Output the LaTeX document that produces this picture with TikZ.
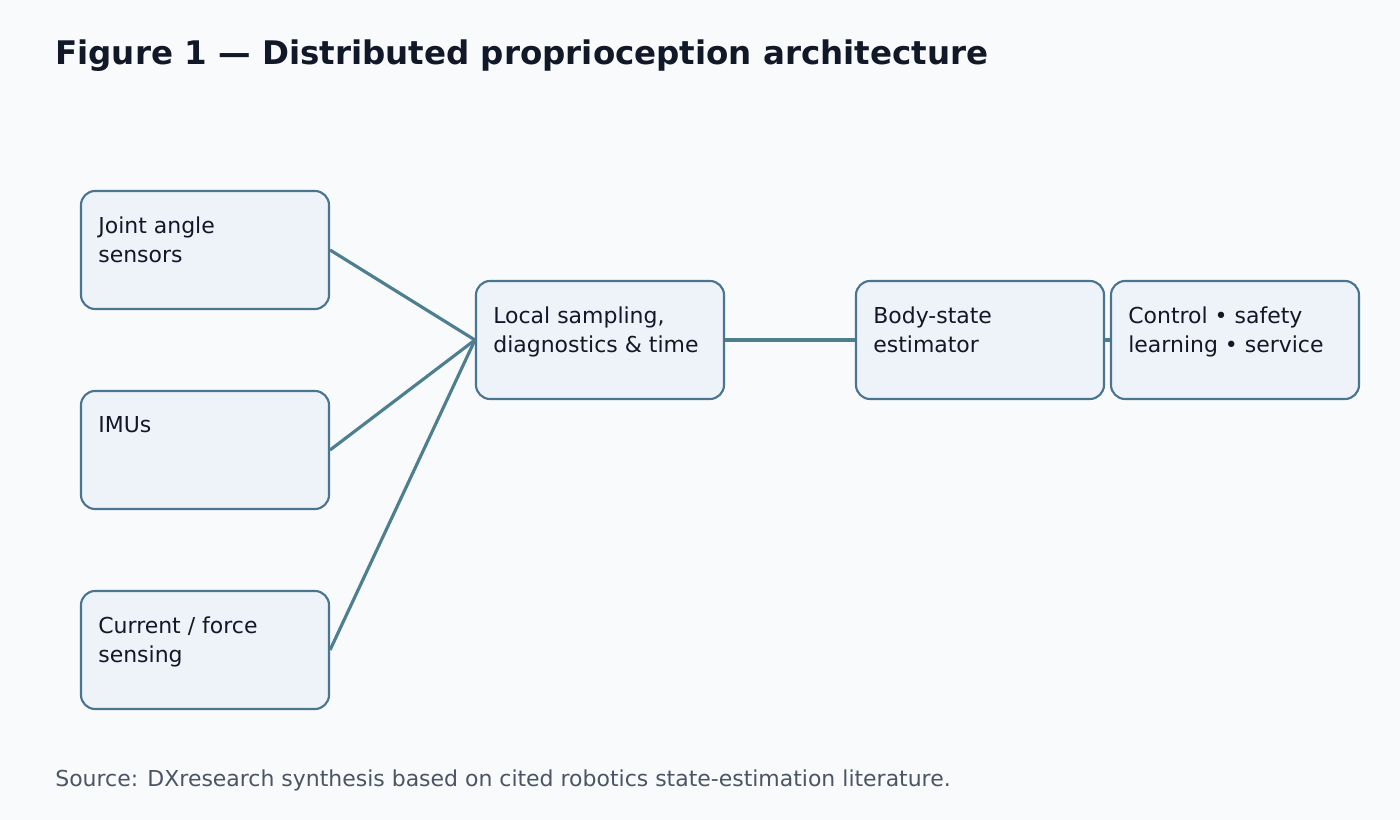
\documentclass[tikz,border=0pt]{standalone}
\usepackage{fontspec}
\setmainfont{DejaVu Sans}
\usetikzlibrary{positioning}
\definecolor{bgc}{HTML}{F8FAFC}
\definecolor{boxfill}{HTML}{EEF3F9}
\definecolor{boxline}{HTML}{4A7590}
\definecolor{linkc}{HTML}{4E7F8F}
\definecolor{inkc}{HTML}{111827}
\definecolor{greyc}{HTML}{4B5563}
\tikzset{
  unit/.style={draw=boxline, fill=boxfill, line width=1.2pt, rounded corners=8pt,
    minimum width=248*0.02cm, minimum height=118*0.02cm, inner sep=0pt},
  txt/.style={anchor=north west, align=left, font=\fontsize{12.5}{17}\selectfont,
    text=inkc, inner sep=0pt},
  link/.style={draw=linkc, line width=1.8pt}
}
\begin{document}
\begin{tikzpicture}[x=0.02cm, y=-0.02cm]
\fill[bgc] (0,0) rectangle (1400,820);
\useasboundingbox (0,0) rectangle (1400,820);

% Title
\node[anchor=west, inner sep=0pt, text=inkc, font=\fontsize{18.5}{22}\bfseries] (title) at (55,56)
  {Figure 1 — Distributed proprioception architecture};

% Sensors
\node[unit] (joint) at (205,250) {};
\node[unit] (imu) at (205,450) {};
\node[unit] (force) at (205,650) {};
% Processing chain
\node[unit] (local) at (600,340) {};
\node[unit] (body) at (980,340) {};
\node[unit] (ctrl) at (1235,340) {};

\node[txt] (tjoint) at (98,216) {Joint angle\\sensors};
\node[txt] (timu) at (98,416) {IMUs};
\node[txt] (tforce) at (98,616) {Current / force\\sensing};
\node[txt] (tlocal) at (493,306) {Local sampling,\\diagnostics \& time};
\node[txt] (tbody) at (873,306) {Body-state\\estimator};
\node[txt] (tctrl) at (1128,306) {Control • safety\\learning • service};

% Links
\draw[link] (joint.east) -- (local.west);
\draw[link] (imu.east) -- (local.west);
\draw[link] (force.east) -- (local.west);
\draw[link] (local.east) -- (body.west);
\draw[link] (body.east) -- (ctrl.west);

% Source
\node[anchor=west, inner sep=0pt, text=greyc, font=\fontsize{12.5}{15}\selectfont] (source) at (55,780)
  {Source: DXresearch synthesis based on cited robotics state-estimation literature.};
\end{tikzpicture}
\end{document}
